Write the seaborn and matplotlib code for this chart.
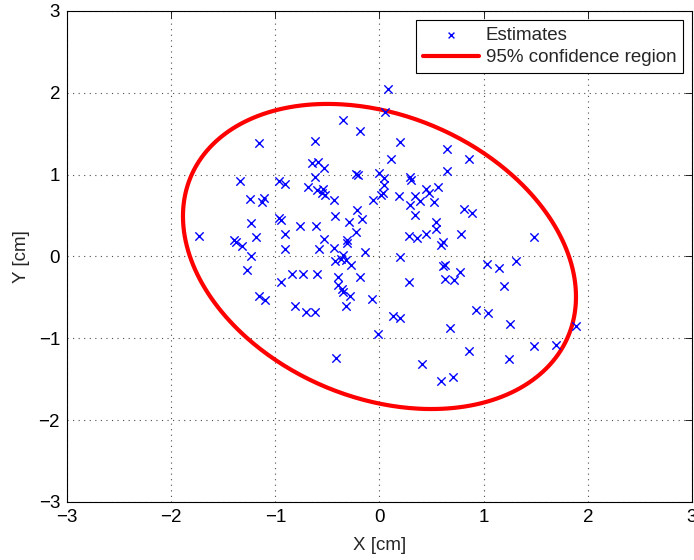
import numpy as np
import pandas as pd
import matplotlib
matplotlib.use("Agg")
import matplotlib.pyplot as plt
import seaborn as sns

# Position estimates [cm]
est_x = [0.08, 0.05, -0.35, -0.19, -1.16, -0.62, 0.20, 0.65, 0.86, 0.11,
         -0.65, -0.59, -0.53, 0.65, -0.23, -0.21, 0.00, 0.04, 0.04, -0.62,
         0.29, 0.30, 0.56, 0.45, -0.54, -1.34, -0.96, -0.91, -0.69, -0.60,
         -1.24, -1.13, -1.11, -0.96, -0.95, -1.23, -0.76, -0.61, -1.73, -0.91,
         -1.40, -1.38, -1.19, -1.32, -0.91, -1.23, -0.58, -1.27, -0.95, -0.84,
         -0.73, -0.60, -0.55, -0.52, -0.44, -0.06, 0.01, 0.03, 0.19, 0.34,
         0.48, 0.29, 0.39, 0.52, -0.22, -0.43, 0.34, -0.29, -0.17, 0.54,
         0.54, -0.23, 0.28, 0.36, 0.45, -0.53, -0.31, -0.31, 0.61, 0.59,
         -0.44, -0.14, -0.35, -0.37, -0.32, -0.43, -0.27, 0.20, 0.63, 0.61,
         -0.40, -0.40, -0.19, 0.63, 0.28, -0.36, 0.81, 0.89, 0.78, 1.48,
         1.03, 1.15, 1.31, 0.77, 0.72, 1.20, -1.16, -1.10, -0.81, -0.71,
         -0.62, -0.35, -0.28, -0.07, -0.32, 0.13, 0.20, -0.01, 0.68, -0.42,
         0.41, 0.59, 0.93, 1.04, 1.25, 1.89, 1.48, 1.69, 0.86, 1.24,
         0.71]
est_y = [2.05, 1.77, 1.67, 1.53, 1.39, 1.41, 1.40, 1.31, 1.19, 1.19,
         1.14, 1.15, 1.08, 1.05, 1.01, 1.00, 1.02, 0.96, 0.87, 0.97,
         0.97, 0.93, 0.85, 0.82, 0.83, 0.92, 0.92, 0.89, 0.85, 0.81,
         0.70, 0.67, 0.71, 0.47, 0.45, 0.41, 0.37, 0.37, 0.25, 0.27,
         0.20, 0.18, 0.24, 0.13, 0.09, 0.01, 0.09, -0.16, -0.31, -0.21,
         -0.21, -0.21, 0.78, 0.75, 0.69, 0.69, 0.75, 0.77, 0.74, 0.74,
         0.78, 0.63, 0.68, 0.66, 0.57, 0.50, 0.51, 0.42, 0.46, 0.42,
         0.34, 0.30, 0.25, 0.23, 0.28, 0.21, 0.20, 0.17, 0.18, 0.14,
         0.10, 0.06, 0.02, -0.03, -0.04, -0.06, -0.10, -0.01, -0.10, -0.12,
         -0.25, -0.35, -0.25, -0.28, -0.31, -0.40, 0.58, 0.53, 0.27, 0.24,
         -0.09, -0.14, -0.05, -0.19, -0.29, -0.36, -0.48, -0.53, -0.60, -0.68,
         -0.68, -0.44, -0.48, -0.52, -0.60, -0.73, -0.75, -0.95, -0.87, -1.24,
         -1.31, -1.52, -0.65, -0.69, -0.82, -0.85, -1.09, -1.08, -1.15, -1.25,
         -1.47]

# 95% confidence region: centre, covariance and chi-square quantile (2 dof)
region_center = [0.0, 0.0]
region_cov = [[0.594, -0.155], [-0.155, 0.580]]
chi2_95 = 5.991

x_ticks = [-3, -2, -1, 0, 1, 2, 3]
y_ticks = [-3, -2, -1, 0, 1, 2, 3]

sns.set_theme(style="white")
plt.rcParams['font.family'] = ['Liberation Sans', 'DejaVu Sans']
plt.rcParams['axes.unicode_minus'] = True

fs = 13.5

est = pd.DataFrame({"x": est_x, "y": est_y})

t = np.linspace(0, 2 * np.pi, 400)
L = np.linalg.cholesky(chi2_95 * np.array(region_cov))
pts = (L @ np.vstack([np.cos(t), np.sin(t)])).T + np.array(region_center)
region = pd.DataFrame({"x": pts[:, 0], "y": pts[:, 1]})

fig = plt.figure(figsize=(6.94, 5.6), dpi=100)
fig.patch.set_facecolor("white")
ax = fig.add_axes([0.0965, 0.1036, 0.9006, 0.8768])
ax.set_facecolor("white")

sns.scatterplot(data=est, x="x", y="y", marker="x", color=(0, 0, 1),
                s=36, linewidth=1.0, ax=ax, label="Estimates", zorder=3)
sns.lineplot(data=region, x="x", y="y", sort=False, estimator=None,
             color=(1, 0, 0), linewidth=3, ax=ax,
             label="95% confidence region", zorder=2)

ax.set_xlim(-3, 3)
ax.set_ylim(-3, 3)
ax.set_xticks(x_ticks)
ax.set_yticks(y_ticks)
ax.set_xlabel("X [cm]", fontsize=fs, labelpad=8)
ax.set_ylabel("Y [cm]", fontsize=fs, labelpad=6)

ax.grid(True, linestyle=(0, (1, 4)), color="0.3", linewidth=0.8)
ax.tick_params(direction="in", top=True, right=True, length=5, width=0.6,
               labelsize=fs, colors="black", pad=5)
for sp in ax.spines.values():
    sp.set_color("black")
    sp.set_linewidth(0.8)

leg = ax.legend(loc="upper right", bbox_to_anchor=(0.9856, 0.9817),
                borderaxespad=0, fontsize=fs, frameon=True, fancybox=False,
                edgecolor="black", framealpha=1, handlelength=3.0,
                handletextpad=0.35, labelspacing=0.3, borderpad=0.35,
                markerscale=0.7)
leg.get_frame().set_linewidth(0.8)

fig.savefig("out.png", dpi=100, facecolor="white")
